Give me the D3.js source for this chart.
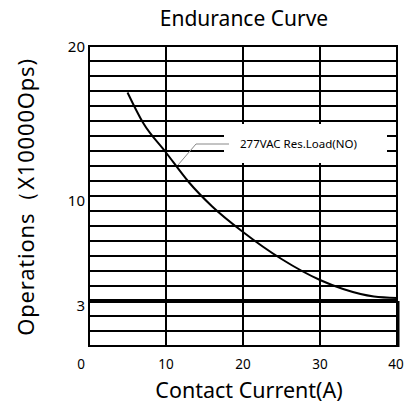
<!DOCTYPE html>
<html>
<head>
<meta charset="utf-8">
<script src="https://cdn.jsdelivr.net/npm/d3@7"></script>
<style>
  body { margin: 0; background: #fff; }
  text { font-family: "Noto Sans", "Open Sans", sans-serif; fill: #000; }
</style>
</head>
<body>
<svg id="chart" width="406" height="407"></svg>
<script>
// data
const currentA = [5, 7, 10, 13, 16, 20, 25, 30, 33, 37, 40];
const operations = [16.9, 14.9, 12.9, 10.9, 9.3, 7.6, 5.8, 4.4, 3.8, 3.3, 3.2];
const xTicks = [0, 10, 20, 30, 40];
const yTicks = [3, 10, 20];
const yGrid = d3.range(0, 21);
const ratedLine = 3;
const seriesLabel = "277VAC Res.Load(NO)";

const svg = d3.select("svg#chart");
const x = d3.scaleLinear().domain([0, 40]).range([89, 397]);
const y = d3.scaleLinear().domain([0, 20]).range([346, 46]);

// horizontal grid
svg.selectAll(".hline")
   .data(yGrid)
   .enter().append("line")
           .attr("class", "hline")
           .attr("x1", x(0)).attr("x2", x(40))
           .attr("y1", d => y(d)).attr("y2", d => y(d))
           .attr("stroke", "#000")
           .attr("stroke-width", d => d === ratedLine ? 4 : 2);

// vertical grid
svg.selectAll(".vline")
   .data(xTicks)
   .enter().append("line")
           .attr("class", "vline")
           .attr("x1", d => x(d)).attr("x2", d => x(d))
           .attr("y1", y(0) + 1).attr("y2", y(20) - 1)
           .attr("stroke", "#000")
           .attr("stroke-width", 2);

// thick right edge below the rated line
svg.append("line")
   .attr("x1", x(40) + 1).attr("x2", x(40) + 1)
   .attr("y1", y(ratedLine)).attr("y2", y(0) + 1)
   .attr("stroke", "#000")
   .attr("stroke-width", 3);

// endurance curve
svg.append("path")
   .datum(currentA.map((c, i) => [c, operations[i]]))
   .attr("fill", "none")
   .attr("stroke", "#000")
   .attr("stroke-width", 2)
   .attr("d", d3.line()
                .x(d => x(d[0]))
                .y(d => y(d[1]))
                .curve(d3.curveMonotoneX));

// label box knocks out grid behind it
svg.append("rect")
   .attr("x", 224).attr("y", y(14.8))
   .attr("width", 163).attr("height", y(12.2) - y(14.8))
   .attr("fill", "#fff");

svg.append("polyline")
   .attr("points", [[178, 165], [196, 144], [229, 144]].join(" "))
   .attr("fill", "none")
   .attr("stroke", "#888")
   .attr("stroke-width", 1);

svg.append("text")
   .attr("x", 240).attr("y", 148)
   .attr("font-size", 11.5)
   .text(seriesLabel);

// tick labels
svg.selectAll(".xlab")
   .data(xTicks)
   .enter().append("text")
           .attr("class", "xlab")
           .attr("x", d => d === 0 ? x(d) - 8 : (d === 40 ? x(d) - 1 : x(d)))
           .attr("y", 369)
           .attr("text-anchor", "middle")
           .attr("font-size", 13.5)
           .text(d => d);

svg.selectAll(".ylab")
   .data(yTicks)
   .enter().append("text")
           .attr("class", "ylab")
           .attr("x", 85)
           .attr("y", d => y(d) + (d === 20 ? 6 : 10))
           .attr("text-anchor", "end")
           .attr("font-size", 15)
           .text(d => d);

// titles
svg.append("text")
   .attr("x", 244).attr("y", 26)
   .attr("text-anchor", "middle")
   .attr("font-size", 21)
   .text("Endurance Curve");

svg.append("text")
   .attr("x", 249).attr("y", 398)
   .attr("text-anchor", "middle")
   .attr("font-size", 21.5)
   .text("Contact Current(A)");

svg.append("text")
   .attr("transform", "translate(34, 197) rotate(-90)")
   .attr("text-anchor", "middle")
   .attr("font-size", 22)
   .attr("letter-spacing", 0.8)
   .text("Operations（X10000Ops)");
</script>
</body>
</html>
